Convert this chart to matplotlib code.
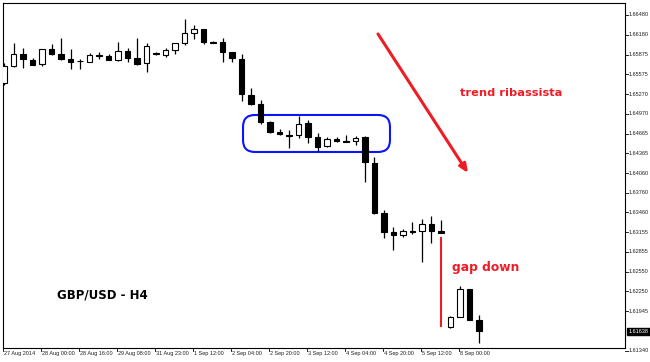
"""
GBP/USD H4 candlestick chart with trend and gap annotations.
"""

import matplotlib
matplotlib.use("Agg")
from matplotlib import pyplot as plt
from matplotlib.patches import FancyBboxPatch
from matplotlib.transforms import blended_transform_factory

# H4 candles, 27 Aug - 8 Sep 2014
opens = [1.65440, 1.65700, 1.65883, 1.65791, 1.65730, 1.65960, 1.65883, 1.65807,
         1.65776, 1.65761, 1.65868, 1.65853, 1.65791, 1.65929, 1.65822, 1.65746,
         1.65899, 1.65868, 1.65944, 1.66052, 1.66205, 1.66266, 1.66067, 1.66067,
         1.65914, 1.65807, 1.65256, 1.65118, 1.64843, 1.64690, 1.64644, 1.64644,
         1.64828, 1.64613, 1.64476, 1.64583, 1.64552, 1.64552, 1.64613, 1.64216,
         1.63451, 1.63160, 1.63114, 1.63175, 1.63175, 1.63282, 1.63175, 1.61706,
         1.61859, 1.62288, 1.61813]
highs = [1.65746, 1.66052, 1.65975, 1.65822, 1.65960, 1.66036, 1.66128, 1.65960,
         1.65807, 1.65899, 1.65914, 1.65883, 1.66067, 1.65975, 1.66128, 1.66052,
         1.65914, 1.65975, 1.66052, 1.66419, 1.66327, 1.66266, 1.66082, 1.66128,
         1.65914, 1.65883, 1.65363, 1.65179, 1.64858, 1.64736, 1.64720, 1.64935,
         1.64873, 1.64675, 1.64613, 1.64613, 1.64644, 1.64629, 1.64629, 1.64307,
         1.63496, 1.63236, 1.63206, 1.63313, 1.63359, 1.63405, 1.63343, 1.61875,
         1.62334, 1.62288, 1.61890]
lows = [1.65409, 1.65684, 1.65669, 1.65715, 1.65700, 1.65868, 1.65791, 1.65654,
        1.65654, 1.65761, 1.65807, 1.65791, 1.65776, 1.65761, 1.65715, 1.65608,
        1.65868, 1.65837, 1.65883, 1.66021, 1.66113, 1.66036, 1.66052, 1.65761,
        1.65761, 1.65164, 1.65103, 1.64812, 1.64675, 1.64644, 1.64445, 1.64598,
        1.64522, 1.64399, 1.64460, 1.64537, 1.64537, 1.64491, 1.63925, 1.63435,
        1.63068, 1.62884, 1.63083, 1.63129, 1.62701, 1.62992, 1.63145, 1.61691,
        1.61859, 1.61813, 1.61462]
closes = [1.65700, 1.65883, 1.65807, 1.65715, 1.65960, 1.65883, 1.65807, 1.65761,
          1.65769, 1.65868, 1.65853, 1.65791, 1.65929, 1.65822, 1.65730, 1.66006,
          1.65883, 1.65944, 1.66052, 1.66205, 1.66266, 1.66067, 1.66059, 1.65914,
          1.65822, 1.65271, 1.65118, 1.64843, 1.64690, 1.64659, 1.64636, 1.64812,
          1.64613, 1.64460, 1.64583, 1.64552, 1.64544, 1.64598, 1.64231, 1.63451,
          1.63160, 1.63114, 1.63175, 1.63167, 1.63282, 1.63175, 1.63145, 1.61859,
          1.62288, 1.61813, 1.61638]

time_labels = ["27 Aug 2014", "28 Aug 00:00", "28 Aug 16:00", "29 Aug 08:00",
               "31 Aug 23:00", "1 Sep 12:00", "2 Sep 04:00", "2 Sep 20:00",
               "3 Sep 12:00", "4 Sep 04:00", "4 Sep 20:00", "5 Sep 12:00",
               "8 Sep 00:00"]
bars_per_label = 4

price_levels = [1.66480, 1.66180, 1.65875, 1.65575, 1.65270, 1.64970, 1.64665,
                1.64365, 1.64060, 1.63760, 1.63460, 1.63155, 1.62855, 1.62550,
                1.62250, 1.61945, 1.61340]

gap_bar = 46

RED = "#ee1c24"
SCALE_FONT = "Liberation Sans"
SCALE_SIZE = 4.0

fig = plt.figure(figsize=(6.5, 3.62), dpi=100)
ax = fig.add_axes([2.5 / 650, 14 / 362, 622.5 / 650, 345.5 / 362])
ax.set_xlim(-0.16, 65.37)
ax.set_ylim(1.61385, 1.66671)
ax.set_xticks([])
ax.set_yticks([])
for spine in ax.spines.values():
    spine.set_linewidth(0.8)
    spine.set_color("black")

# candles
xs = list(range(len(opens)))
bottoms = [min(o, c) for o, c in zip(opens, closes)]
heights = [max(abs(c - o), 0.00002) for o, c in zip(opens, closes)]
faces = ["white" if c > o else "black" for o, c in zip(opens, closes)]
ax.vlines(xs, lows, highs, color="black", lw=0.9, zorder=3)
ax.bar(xs, heights, bottom=bottoms, width=0.62, color=faces,
       edgecolor="black", linewidth=0.8, zorder=4)

# price scale on the right
yt = blended_transform_factory(ax.transAxes, ax.transData)
tick_w = 3 / 622.5
for level in price_levels:
    ax.plot([1.0, 1.0 + tick_w], [level, level], transform=yt,
            color="black", lw=0.6, clip_on=False)
    ax.text(1.0 + 1.2 * tick_w, level, f"{level:.5f}", transform=yt,
            ha="left", va="center", fontsize=SCALE_SIZE, family=SCALE_FONT,
            color="#202020", clip_on=False)
ax.text(1.0 + 1.2 * tick_w, closes[-1], f"{closes[-1]:.5f}", transform=yt,
        ha="left", va="center", fontsize=SCALE_SIZE, family=SCALE_FONT,
        color="white",
        bbox=dict(boxstyle="square,pad=0.25", fc="black", ec="black"),
        clip_on=False)

# time scale at the bottom
xt = blended_transform_factory(ax.transData, ax.transAxes)
tick_h = 3 / 345.5
for k, label in enumerate(time_labels):
    x = k * bars_per_label - 0.15
    ax.plot([x, x], [0, -tick_h], transform=xt, color="black", lw=0.6,
            clip_on=False)
    ax.text(x + 0.12, -tick_h, label, transform=xt, ha="left", va="top",
            fontsize=SCALE_SIZE, family=SCALE_FONT, color="#202020",
            clip_on=False)

# consolidation box
box = FancyBboxPatch((25.16, 1.64384), 40.63 - 25.16, 1.64950 - 1.64384,
                     boxstyle="round,pad=0,rounding_size=1.25",
                     mutation_aspect=0.001454, fc="none", ec="#0a14ff",
                     lw=1.5, zorder=2)
ax.add_patch(box)

# downtrend arrow
ax.annotate("", xy=(48.84, 1.64063), xytext=(39.37, 1.66189),
            arrowprops=dict(arrowstyle="-|>,head_length=0.5,head_width=0.22",
                            color=RED, lw=2.2, shrinkA=0, shrinkB=0))

# weekend gap
ax.vlines(gap_bar, opens[gap_bar + 1], closes[gap_bar] - 0.0006,
          color=RED, lw=1.5, zorder=2)

ax.text(48.0, 1.65287, "trend ribassista", color=RED, fontsize=8.2,
        fontweight="bold", va="center", ha="left")
ax.text(47.16, 1.62609, "gap down", color=RED, fontsize=8.8,
        fontweight="bold", va="center", ha="left")
ax.text(5.58, 1.62196, "GBP/USD - H4", color="black", fontsize=8.5,
        fontweight="bold", va="center", ha="left")

fig.savefig("out.png", dpi=100)
plt.close(fig)
